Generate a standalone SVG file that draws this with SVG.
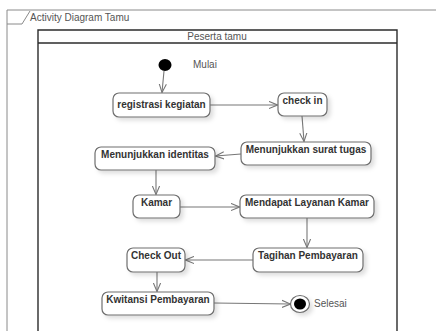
<svg xmlns="http://www.w3.org/2000/svg" width="436" height="331" viewBox="0 0 436 331">
  <style>
    .frame { fill: none; stroke: #8a8a8a; stroke-width: 1; }
    .lane { fill: none; stroke: #2b2b2b; stroke-width: 1.4; }
    .act rect { fill: #ffffff; stroke: #6e6e6e; stroke-width: 1.2; filter: url(#shadow); }
    .act text { font-family: "Liberation Sans", Arial, sans-serif; font-size: 10px; font-weight: bold; fill: #333333; text-anchor: middle; }
    .plain { font-family: "Liberation Sans", Arial, sans-serif; font-size: 10px; fill: #555555; }
    .flow { fill: none; stroke: #777777; stroke-width: 1.1; marker-end: url(#open); }
  </style>
  <defs>
    <filter id="shadow" x="-20%" y="-30%" width="150%" height="180%">
      <feDropShadow dx="3" dy="3" stdDeviation="2" flood-color="#000000" flood-opacity="0.13"/>
    </filter>
    <marker id="open" viewBox="0 0 10 10" refX="9.5" refY="5" markerWidth="9" markerHeight="9" markerUnits="userSpaceOnUse" orient="auto">
      <path d="M0,1 L9.5,5 L0,9" fill="none" stroke="#777777" stroke-width="1.2"/>
    </marker>
  </defs>

  <rect width="436" height="331" fill="#ffffff"/>

  <!-- activity frame with name tab -->
  <g id="frame">
    <path class="frame" d="M436,10 L7,10 L7,331"/>
    <path class="frame" d="M7,24 L22,24 L30,11"/>
    <text class="plain" x="30" y="21">Activity Diagram Tamu</text>
  </g>

  <!-- swimlane -->
  <g id="lane">
    <path class="lane" d="M38,331 L38,30 L397,30 L397,331"/>
    <line class="lane" x1="38" y1="43" x2="397" y2="43"/>
    <text class="plain" x="217" y="40" text-anchor="middle">Peserta tamu</text>
  </g>

  <!-- connectors -->
  <g id="connectors">
    <path class="flow" d="M164,71 L162,92.5"/>
    <path class="flow" d="M210,105 L277.5,105"/>
    <path class="flow" d="M302,116 L304,141.5"/>
    <path class="flow" d="M241,154 L215.5,156"/>
    <path class="flow" d="M156,170 L156,194.5"/>
    <path class="flow" d="M180,207 L239.5,207"/>
    <path class="flow" d="M307,218 L307,247.5"/>
    <path class="flow" d="M253,260 L185.5,260"/>
    <path class="flow" d="M157,272 L157,291.5"/>
    <path class="flow" d="M214,303 L290.5,304"/>
  </g>

  <g id="start">
    <ellipse cx="165" cy="65" rx="6.5" ry="6" fill="#000000"/>
    <text class="plain" x="193" y="68">Mulai</text>
  </g>

  <g id="registrasi" class="act">
    <rect x="113" y="93" width="97" height="24" rx="6"/>
    <text x="161.5" y="108">registrasi kegiatan</text>
  </g>

  <g id="checkin" class="act">
    <rect x="278" y="93" width="49" height="23" rx="6"/>
    <text x="302.5" y="104">check in</text>
  </g>

  <g id="surat" class="act">
    <rect x="241" y="142" width="130" height="23" rx="6"/>
    <text x="306" y="153">Menunjukkan surat tugas</text>
  </g>

  <g id="identitas" class="act">
    <rect x="95" y="147" width="120" height="23" rx="6"/>
    <text x="155" y="158">Menunjukkan identitas</text>
  </g>

  <g id="kamar" class="act">
    <rect x="133" y="195" width="47" height="23" rx="6"/>
    <text x="156.5" y="206">Kamar</text>
  </g>

  <g id="layanan" class="act">
    <rect x="240" y="195" width="134" height="23" rx="6"/>
    <text x="307" y="206">Mendapat Layanan Kamar</text>
  </g>

  <g id="tagihan" class="act">
    <rect x="253" y="248" width="110" height="24" rx="6"/>
    <text x="308" y="259">Tagihan Pembayaran</text>
  </g>

  <g id="checkout" class="act">
    <rect x="127" y="248" width="58" height="24" rx="6"/>
    <text x="156" y="259">Check Out</text>
  </g>

  <g id="kwitansi" class="act">
    <rect x="102" y="292" width="112" height="23" rx="6"/>
    <text x="158" y="303">Kwitansi Pembayaran</text>
  </g>

  <g id="end">
    <ellipse cx="300" cy="304" rx="9.5" ry="8.5" fill="#ffffff" stroke="#6e6e6e" stroke-width="1.2" filter="url(#shadow)"/>
    <ellipse cx="300" cy="304" rx="6" ry="5.5" fill="#000000"/>
    <text class="plain" x="314" y="307">Selesai</text>
  </g>
</svg>
